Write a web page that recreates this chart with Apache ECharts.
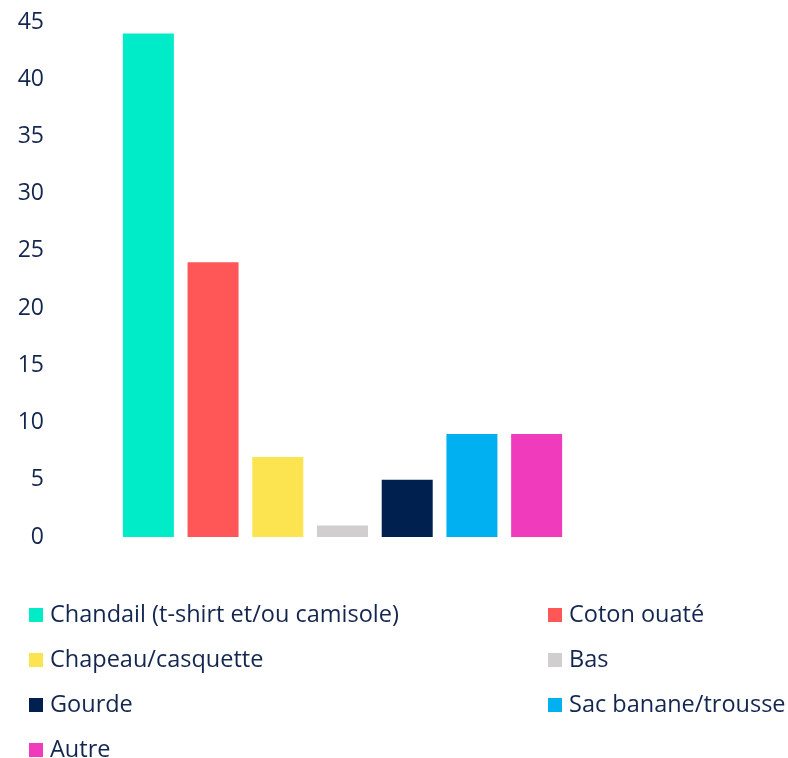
<!DOCTYPE html>
<html>
<head>
<meta charset="utf-8">
<script src="https://cdn.jsdelivr.net/npm/echarts@6/dist/echarts.min.js"></script>
<style>html,body{margin:0;padding:0;background:#fff;}#c{width:788px;height:758px;}</style>
</head>
<body>
<div id="c"></div>
<script>
const categories = ['Chandail (t-shirt et/ou camisole)', 'Coton ouaté', 'Chapeau/casquette', 'Bas', 'Gourde', 'Sac banane/trousse', 'Autre'];
const values = [44, 24, 7, 1, 5, 9, 9];
const colors = ['#00ebc8', '#ff5757', '#fce350', '#d0cece', '#002050', '#00b0f0', '#f03cbc'];
const yTicks = [0, 5, 10, 15, 20, 25, 30, 35, 40, 45];

const textColor = '#13264f';
const font = 'Open Sans';

const series = categories.map((name, i) => ({
  name: name,
  type: 'bar',
  stack: 'all',
  barWidth: 51,
  itemStyle: { color: colors[i] },
  data: categories.map((c, j) => (j === i ? values[i] : null))
}));

const leftNames = categories.filter((c, i) => i % 2 === 0);
const rightNames = categories.filter((c, i) => i % 2 === 1);
const legendCommon = {
  orient: 'vertical',
  top: 598,
  height: 200,
  itemWidth: 14,
  itemHeight: 14,
  itemGap: 21,
  icon: 'rect',
  textStyle: { color: textColor, fontSize: 23.5, fontFamily: font, lineHeight: 24, padding: [0, 0, 0, 2] }
};

const chart = echarts.init(document.getElementById('c'), null, { renderer: 'canvas' });
chart.setOption({
  animation: false,
  backgroundColor: '#ffffff',
  grid: { left: 116, right: 219, top: 22, bottom: 221, containLabel: false },
  legend: [
    Object.assign({}, legendCommon, { left: 24, data: leftNames }),
    Object.assign({}, legendCommon, { left: 543, data: rightNames })
  ],
  xAxis: {
    type: 'category',
    data: categories,
    axisLine: { show: false },
    axisTick: { show: false },
    axisLabel: { show: false },
    splitLine: { show: false }
  },
  yAxis: {
    type: 'value',
    min: yTicks[0],
    max: yTicks[yTicks.length - 1],
    interval: yTicks[1] - yTicks[0],
    axisLine: { show: false },
    axisTick: { show: false },
    splitLine: { show: false },
    axisLabel: { color: textColor, fontSize: 23, fontFamily: font, margin: 72 }
  },
  series: series
});
</script>
</body>
</html>
